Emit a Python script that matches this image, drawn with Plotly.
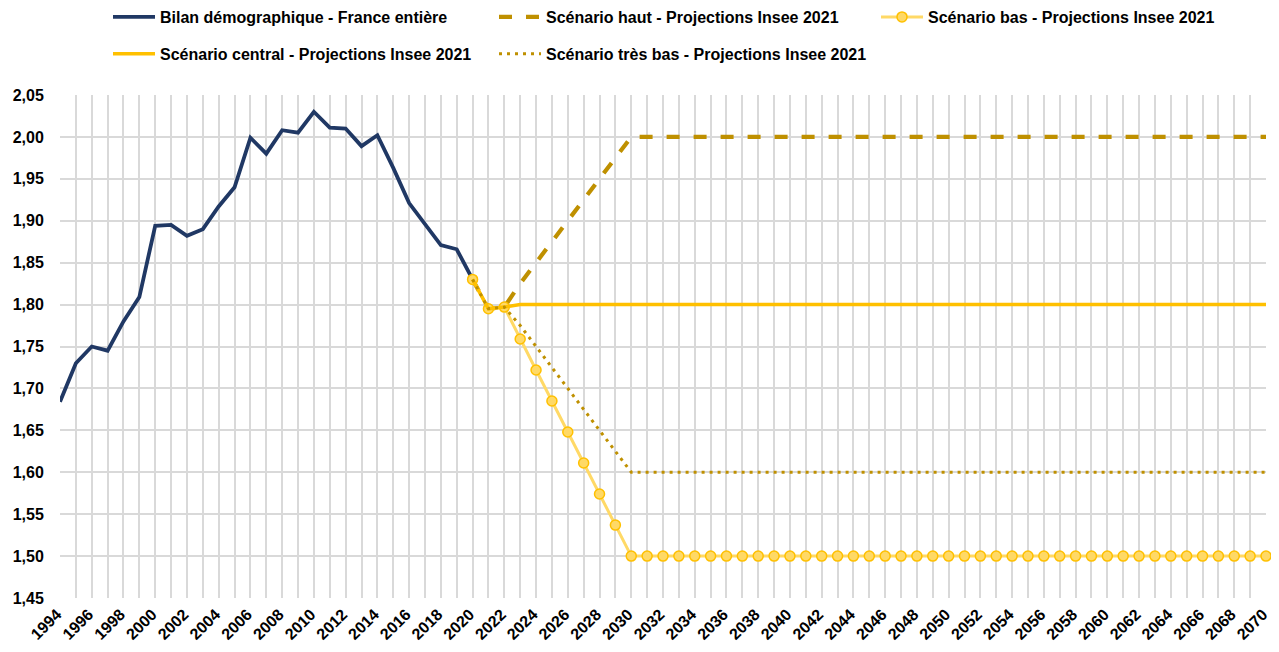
import plotly.graph_objects as go

# ---------------- data ----------------
years_hist = list(range(1994, 2021))
bilan = [1.684, 1.73, 1.75, 1.745, 1.78, 1.809, 1.894, 1.895, 1.882, 1.89,
         1.917, 1.94, 1.999, 1.98, 2.008, 2.005, 2.03, 2.011, 2.01, 1.989,
         2.002, 1.963, 1.921, 1.896, 1.871, 1.866, 1.83]

years_proj = list(range(2020, 2071))
haut = [1.83, 1.795, 1.797, 1.825, 1.85, 1.875, 1.90, 1.925, 1.95, 1.975,
        2.00, 2.00, 2.00, 2.00, 2.00, 2.00, 2.00, 2.00, 2.00, 2.00,
        2.00, 2.00, 2.00, 2.00, 2.00, 2.00, 2.00, 2.00, 2.00, 2.00,
        2.00, 2.00, 2.00, 2.00, 2.00, 2.00, 2.00, 2.00, 2.00, 2.00,
        2.00, 2.00, 2.00, 2.00, 2.00, 2.00, 2.00, 2.00, 2.00, 2.00,
        2.00]
central = [1.83, 1.795, 1.797, 1.80, 1.80, 1.80, 1.80, 1.80, 1.80, 1.80,
           1.80, 1.80, 1.80, 1.80, 1.80, 1.80, 1.80, 1.80, 1.80, 1.80,
           1.80, 1.80, 1.80, 1.80, 1.80, 1.80, 1.80, 1.80, 1.80, 1.80,
           1.80, 1.80, 1.80, 1.80, 1.80, 1.80, 1.80, 1.80, 1.80, 1.80,
           1.80, 1.80, 1.80, 1.80, 1.80, 1.80, 1.80, 1.80, 1.80, 1.80,
           1.80]
bas = [1.83, 1.795, 1.797, 1.759, 1.722, 1.685, 1.648, 1.611, 1.574, 1.537,
       1.50, 1.50, 1.50, 1.50, 1.50, 1.50, 1.50, 1.50, 1.50, 1.50,
       1.50, 1.50, 1.50, 1.50, 1.50, 1.50, 1.50, 1.50, 1.50, 1.50,
       1.50, 1.50, 1.50, 1.50, 1.50, 1.50, 1.50, 1.50, 1.50, 1.50,
       1.50, 1.50, 1.50, 1.50, 1.50, 1.50, 1.50, 1.50, 1.50, 1.50,
       1.50]
tres_bas = [1.83, 1.795, 1.797, 1.775, 1.75, 1.725, 1.70, 1.675, 1.65, 1.625,
            1.60, 1.60, 1.60, 1.60, 1.60, 1.60, 1.60, 1.60, 1.60, 1.60,
            1.60, 1.60, 1.60, 1.60, 1.60, 1.60, 1.60, 1.60, 1.60, 1.60,
            1.60, 1.60, 1.60, 1.60, 1.60, 1.60, 1.60, 1.60, 1.60, 1.60,
            1.60, 1.60, 1.60, 1.60, 1.60, 1.60, 1.60, 1.60, 1.60, 1.60,
            1.60]

x_tick_years = list(range(1994, 2071, 2))
y_ticks = [1.45, 1.50, 1.55, 1.60, 1.65, 1.70, 1.75, 1.80, 1.85, 1.90, 1.95, 2.00, 2.05]

names = {
    "bilan": "Bilan démographique - France entière",
    "haut": "Scénario haut - Projections Insee 2021",
    "bas": "Scénario bas - Projections Insee 2021",
    "central": "Scénario central - Projections Insee 2021",
    "tres_bas": "Scénario très bas - Projections Insee 2021",
}

# ---------------- figure ----------------
NAVY = "#203864"
DARK_GOLD = "#BF9000"
GOLD = "#FFC000"
LIGHT_GOLD = "#FFD966"
GRID = "#D9D9D9"
FONT = "Liberation Sans, Arial, sans-serif"

W, H = 1271, 636
M_L, M_R, M_T, M_B = 52, 13, 87, 46
PLOT_H = H - M_T - M_B

fig = go.Figure()
fig.add_trace(go.Scatter(x=years_hist, y=bilan, name=names["bilan"], mode="lines",
                         line=dict(color=NAVY, width=3.8), legend="legend",
                         legendgroup="g1"))
fig.add_trace(go.Scatter(x=years_proj, y=haut, name=names["haut"], mode="lines",
                         line=dict(color=DARK_GOLD, width=4.2, dash="13px,14px"),
                         legend="legend2", legendgroup="g2"))
fig.add_trace(go.Scatter(x=years_proj, y=bas, name=names["bas"], mode="lines+markers",
                         line=dict(color=LIGHT_GOLD, width=3),
                         marker=dict(size=10, color=LIGHT_GOLD, line=dict(color=GOLD, width=1.5)),
                         cliponaxis=False, legend="legend3", legendgroup="g3"))
fig.add_trace(go.Scatter(x=years_proj, y=central, name=names["central"], mode="lines",
                         line=dict(color=GOLD, width=3.5), legend="legend",
                         legendgroup="g4"))
fig.add_trace(go.Scatter(x=years_proj, y=tres_bas, name=names["tres_bas"], mode="lines",
                         line=dict(color=DARK_GOLD, width=3, dash="3px,5px"),
                         legend="legend2", legendgroup="g5"))

legend_common = dict(xref="container", yref="paper", y=1 + (M_T + 8) / PLOT_H, yanchor="top",
                     xanchor="left", orientation="v", bgcolor="rgba(0,0,0,0)",
                     font=dict(family=FONT, size=16, color="#000", weight="bold"),
                     tracegroupgap=13, itemwidth=42)

fig.update_layout(
    width=W, height=H,
    margin=dict(l=M_L, r=M_R, t=M_T, b=M_B, autoexpand=False),
    plot_bgcolor="white", paper_bgcolor="white",
    font=dict(family=FONT, size=16, color="#000"),
    separators=", ",
    showlegend=True,
    legend=dict(x=100 / W, **legend_common),
    legend2=dict(x=486 / W, **legend_common),
    legend3=dict(x=868 / W, **legend_common),
    xaxis=dict(
        range=[1994, 2070], tickvals=x_tick_years, tickangle=-45,
        showgrid=True, gridcolor=GRID, gridwidth=1.5,
        minor=dict(dtick=1, tick0=1994, showgrid=True, gridcolor=GRID, gridwidth=1.5),
        zeroline=False, showline=False, ticks="", ticklabeloverflow="allow",
        ticklabelstandoff=3, ticklabelshift=-3,
        tickfont=dict(family=FONT, size=16, color="#000", weight="bold"),
    ),
    yaxis=dict(
        range=[1.45, 2.05], tickvals=y_ticks, tickformat=".2f",
        showgrid=True, gridcolor=GRID, gridwidth=1.5,
        zeroline=False, showline=False,
        ticks="outside", ticklen=12, tickcolor="rgba(0,0,0,0)",
        tickfont=dict(family=FONT, size=16, color="#000", weight="bold"),
    ),
)

fig.write_html("out.html")
